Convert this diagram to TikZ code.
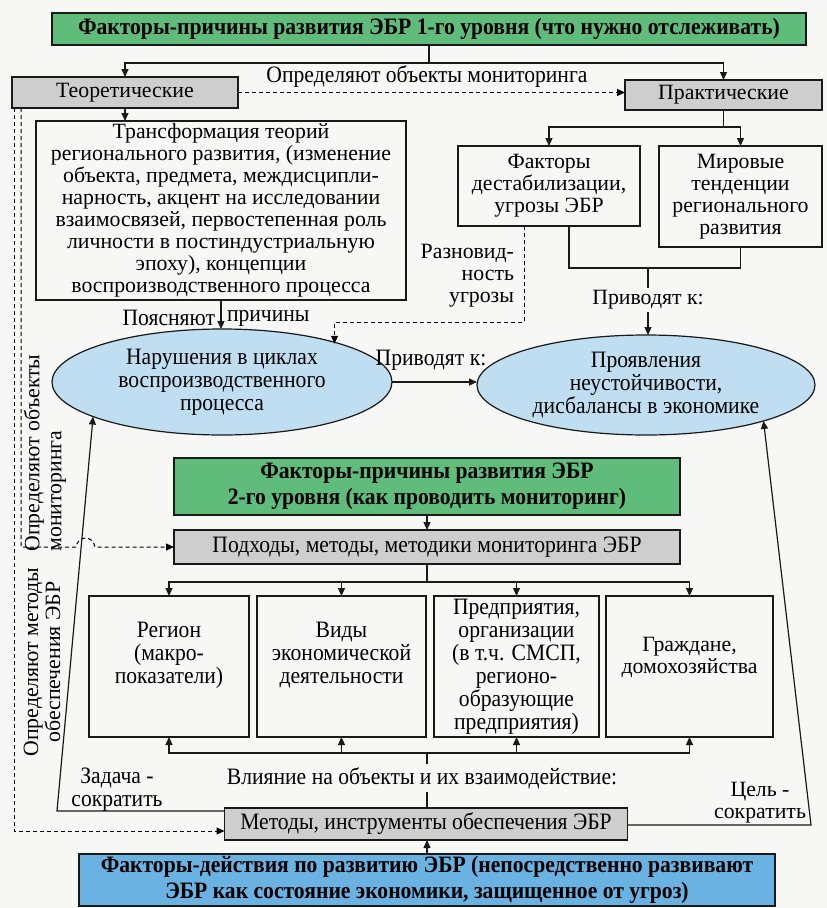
\documentclass[tikz,border=0pt]{standalone}
\usepackage{fontspec}
\setmainfont{Liberation Serif}
\newfontfamily\nf[FakeStretch=0.92]{Liberation Serif}
\usetikzlibrary{shapes.geometric,arrows.meta}
\definecolor{hgreen}{RGB}{96,188,122}
\definecolor{hblue}{RGB}{105,178,226}
\definecolor{eblue}{RGB}{192,222,241}
\definecolor{gbox}{RGB}{206,206,206}
\definecolor{paper}{RGB}{247,247,245}
\newcommand\myhb{\nf\bfseries\fontsize{23.5}{26}\selectfont}
\newcommand\mybody{\fontsize{21.8}{22}\selectfont}
\newcommand\mynar{\nf\fontsize{23.5}{23}\selectfont}
\begin{document}
\begin{tikzpicture}[x=1pt,y=-1pt,
  every node/.style={inner sep=0pt,outer sep=0pt,text=black},
  ln/.style={draw=black!90,line width=1.2pt},
  arr/.style={ln,-{Triangle[length=8pt,width=7pt]}},
  dl/.style={draw=black,line width=1pt,dash pattern=on 4pt off 3pt},
  darr/.style={dl,-{Triangle[length=8pt,width=7pt]}},
  box/.style={ln,rectangle,align=center},
  hbox/.style={box,font=\myhb},
  gray/.style={box,fill=gbox},
  ell/.style={ln,ellipse,fill=eblue,align=center,font=\mynar},
  lbl/.style={inner sep=3pt,align=center}
]
\fill[paper] (0,0) rectangle (827,908);
\useasboundingbox (0,0) rectangle (827,908);

% level 1
\node[hbox,fill=hgreen,minimum width=754pt,minimum height=32pt] (h1) at (429,29)
  {Факторы-причины развития ЭБР 1-го уровня (что нужно отслеживать)};
\node[gray,minimum width=226pt,minimum height=31pt,font=\mybody] (teor) at (125,92.5) {Теоретические};
\node[gray,minimum width=197pt,minimum height=30pt,font=\mybody] (prakt) at (723.5,95) {Практические};
\node[box,minimum width=370pt,minimum height=179pt,font=\mybody] (transf) at (221,210.5)
  {Трансформация теорий\\регионального развития, (изменение\\объекта, предмета, междисципли-\\нарность, акцент на исследовании\\взаимосвязей, первостепенная роль\\личности в постиндустриальную\\эпоху), концепции\\воспроизводственного процесса};
\node[box,minimum width=182pt,minimum height=80pt,font=\mybody] (fact) at (549,186)
  {Факторы\\дестабилизации,\\угрозы ЭБР};
\node[box,minimum width=163pt,minimum height=101pt,font=\mybody] (mir) at (740.5,196.5)
  {Мировые\\тенденции\\регионального\\развития};

\node[ell,minimum width=340pt,minimum height=106pt] (e1) at (222,382)
  {Нарушения в циклах\\воспроизводственного\\процесса};
\node[ell,minimum width=338pt,minimum height=100pt] (e2) at (646,385)
  {Проявления\\неустойчивости,\\дисбалансы в экономике};

% level 2
\node[hbox,fill=hgreen,minimum width=506pt,minimum height=57pt] (h2) at (427,486.5)
  {Факторы-причины развития ЭБР\\2-го уровня (как проводить мониторинг)};
\node[gray,minimum width=506pt,minimum height=34pt,font=\mynar] (podh) at (427,547)
  {Подходы, методы, методики мониторинга ЭБР};

\node[box,minimum width=160pt,minimum height=141pt] (b1) at (169,666.5) {};
\node[box,minimum width=169pt,minimum height=141pt] (b2) at (341.5,666.5) {};
\node[box,minimum width=165pt,minimum height=141pt] (b3) at (516.5,666.5) {};
\node[box,minimum width=167pt,minimum height=141pt] (b4) at (689.5,666.5) {};
\node[lbl,font=\mynar] (b1t) at (169,655) {Регион\\(макро-\\показатели)};
\node[lbl,font=\mynar] (b2t) at (341.5,655) {Виды\\экономической\\деятельности};
\node[lbl,font=\mynar] (b3t) at (516.5,667) {Предприятия,\\организации\\(в т.ч. СМСП,\\регионо-\\образующие\\предприятия)};
\node[lbl,font=\mybody] (b4t) at (689.5,657) {Граждане,\\домохозяйства};

\node[gray,minimum width=403pt,minimum height=32pt,font=\mynar] (met) at (426,824)
  {Методы, инструменты обеспечения ЭБР};
\node[hbox,fill=hblue,minimum width=696pt,minimum height=52pt] (h3) at (427,880)
  {Факторы-действия по развитию ЭБР (непосредственно развивают\\ЭБР как состояние экономики, защищенное от угроз)};

% labels
\node[lbl,font=\mynar] (ltop) at (427,77) {Определяют объекты мониторинга};
\node[lbl,font=\mybody,align=right,anchor=east] (raz) at (517,276) {Разновид-\\ность\\угрозы};
\node[lbl,font=\mybody] (priv1) at (648,300) {Приводят к:};
\node[lbl,font=\mynar,anchor=east] (poy1) at (218,318) {Поясняют};
\node[lbl,font=\mynar,anchor=west] (poy2) at (224,318) {причины};
\node[lbl,font=\mynar] (priv2) at (431,360) {Приводят к:};
\node[lbl,font=\mybody,rotate=90,align=left] (rot1) at (45,453) {Определяют объекты\\мониторинга};
\node[lbl,font=\mybody,rotate=90,align=center] (rot2) at (42,662) {Определяют методы\\обеспечения ЭБР};
\node[lbl,font=\mynar] (zad) at (117,790) {Задача -\\сократить};
\node[lbl,font=\mynar] (infl) at (422,778) {Влияние на объекты и их взаимодействие:};
\node[lbl,font=\mybody] (cel) at (760,803) {Цель -\\сократить};

% coordinates
\coordinate (j1) at (429,63);
\coordinate (j2) at (723.5,127);
\coordinate (j3) at (648,268);
\coordinate (d1) at (334.5,322);
\coordinate (j4) at (427,582);
\coordinate (j5) at (427,753);
\coordinate (cl) at (57,811);
\coordinate (cr) at (811,825);

% connectors level 1
\draw[ln] (h1.south -| j1) -- (j1);
\draw[arr] (j1) -| (teor.north);
\draw[arr] (j1) -| (prakt.north);
\draw[darr] (teor.east) -- (teor.east -| prakt.west);
\draw[arr] (teor.south) -- (teor.south |- transf.north);
\draw[ln] (prakt.south) -- (j2);
\draw[arr] (j2) -| (fact.north);
\draw[arr] (j2) -| (mir.north);
\draw[ln] ([xshift=20pt]fact.south) |- (j3) -| (mir.south);
\draw[ln] (j3) -- (priv1.north);
\draw[arr] (priv1.south) -- (priv1.south |- e2.north);
\draw[darr] ([xshift=-25pt]fact.south) |- (d1) -- (d1 |- e1.18);
\draw[arr] (transf.south) -- (transf.south |- e1.north);
\draw[arr] (e1.east) -- (e1.east -| e2.west);

% level 2
\draw[arr] (h2.south) -- (podh.north);
\draw[ln] (podh.south) -- (j4);
\foreach \b in {b1,b2,b3,b4} {\draw[arr] (j4) -| (\b.north);}
\foreach \b in {b1,b2,b3,b4} {\draw[arr] (j5) -| (\b.south);}
\draw[ln] (j5) -- (j5 |- infl.north);
\draw[ln] (j5 |- infl.south) -- (j5 |- met.north);
\draw[arr] (h3.north) -- (h3.north |- met.south);
\draw[arr] ([yshift=13pt]met.west) -- (cl) -- (e1.195.6);
\draw[arr] (met.east |- cr) -- (cr) -- (e2.343.7);

% dashed left lines
\draw[darr] ([xshift=9pt]teor.south west) -- (21,547) -- (76,547)
  .. controls (78,535) and (93,535) .. (95,547) -- (podh.west);
\draw[darr] ([xshift=2pt]teor.south west) |- ([yshift=-7pt]met.west);
\end{tikzpicture}
\end{document}
